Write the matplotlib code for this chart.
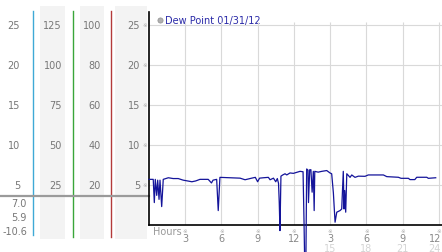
import matplotlib
matplotlib.use('Agg')
import matplotlib.pyplot as plt
from matplotlib.transforms import blended_transform_factory

# dew point trace, hours from midnight 01/31/12
hours = [0.0, 0.35, 0.44, 0.52, 0.64, 0.72, 0.83, 0.91, 1.05, 1.18, 1.6, 2.0, 2.42,
         2.83, 3.2, 3.55, 3.86, 4.22, 4.9, 5.17, 5.3, 5.6, 5.73, 5.87, 6.7, 7.54,
         7.95, 8.5, 8.8, 8.99, 9.15, 9.47, 9.88, 10.02, 10.3, 10.49, 10.62, 10.72,
         10.78, 10.84, 10.92, 11.07, 11.26, 11.4, 11.67, 11.95, 12.28, 12.5, 12.75,
         12.83, 12.95, 13.05, 13.16, 13.2, 13.3, 13.4, 13.5, 13.6, 13.67, 13.72,
         14.0, 14.3, 14.71, 14.98, 15.12, 15.26, 15.4, 15.54, 15.81, 15.95, 16.08,
         16.14, 16.2, 16.28, 16.37, 16.64, 16.78, 17.05, 17.33, 17.88, 18.15, 19.4,
         19.68, 20.64, 20.86, 21.47, 21.6, 22.0, 22.16, 22.99, 23.12, 23.73]
dew = [5.7, 5.7, 2.8, 5.7, 3.7, 5.6, 3.2, 5.6, 2.3, 5.7, 5.9, 5.8, 5.8,
       5.6, 5.5, 5.4, 5.5, 5.7, 5.7, 5.25, 5.6, 5.7, 1.8, 5.95, 5.9, 5.85,
       5.65, 5.85, 5.95, 5.4, 5.85, 5.9, 5.95, 5.65, 5.85, 5.4, 5.8, 5.2,
       2.8, -0.7, 6.1, 6.25, 6.4, 6.25, 6.5, 6.45, 6.6, 6.7, 6.65,
       0.4, -10.6, 7.0, 6.85, 2.8, 6.9, 6.9, 4.1, 6.7, 1.8, 6.7,
       6.6, 6.7, 6.8, 6.5, 6.4, 4.0, 0.35, 1.6, 1.8, 2.0, 6.7,
       2.0, 4.3, 1.6, 6.4, 5.95, 6.25, 5.95, 6.1, 6.08, 6.25, 6.25,
       6.04, 5.96, 5.83, 5.83, 5.67, 5.67, 5.96, 5.96, 5.83, 5.9]

grid_vals = [5, 10, 15, 20, 25]
scale_a = ['25', '50', '75', '100', '125']
scale_b = ['20', '40', '60', '80', '100']
tick_hours = [3, 6, 9, 12, 15, 18, 21, 24]
tick_row1 = ['3', '6', '9', '12', '3', '6', '9', '12']
tick_row2 = ['', '', '', '', '15', '18', '21', '24']
stats = ['7.0', '5.9', '-10.6']
legend_label = 'Dew Point 01/31/12'

W, H = 442, 253
fig = plt.figure(figsize=(W / 100, H / 100), dpi=100, facecolor='white')


def px(x):
    return x / W


def py(y):
    return 1 - y / H


# left side scale columns
bg = fig.add_axes([0, 0, 1, 1])
bg.set_xlim(0, W)
bg.set_ylim(H, 0)
bg.axis('off')
for x0, x1 in [(40, 65), (80, 104), (115, 147)]:
    bg.fill_between([x0, x1], 7, 240, color='#f3f3f3', lw=0)
bg.plot([33, 33], [12, 236], color='#3fa9d6', lw=1.0)
bg.plot([72.5, 72.5], [12, 238], color='#3aa63a', lw=1.0)
bg.plot([111, 111], [12, 238], color='#b33a3a', lw=1.0)
bg.plot([0, 149], [197, 197], color='#9a9a9a', lw=1.6)
for i, s in enumerate(stats):
    bg.text(27, 204 + i * 14, s, ha='right', va='center', fontsize=7, color='#777777')

ax = fig.add_axes([px(149), py(226), (W - 149) / W, (226 - 13) / H])
ax.set_xlim(0, 24.25)
ax.set_ylim(0, 26.6)
ax.set_facecolor('none')
ax.hlines(grid_vals, 0, 24.25, color='#d9d9d9', lw=0.8, zorder=0)
ax.vlines(tick_hours, 0, 25.3, color='#d9d9d9', lw=0.8, zorder=0)
for s in ['top', 'right']:
    ax.spines[s].set_visible(False)
ax.spines['left'].set_linewidth(1.2)
ax.spines['bottom'].set_linewidth(1.2)
ax.set_xticks([])
ax.set_yticks([])

ax.plot(hours, dew, color='#14149a', lw=0.9, clip_on=False, zorder=3)

# y scale labels placed through the data transform
ty = blended_transform_factory(fig.transFigure, ax.transData)
for v, a, b in zip(grid_vals, scale_a, scale_b):
    fig.text(px(20), v, str(v), transform=ty, ha='right', va='center', fontsize=7, color='#777777')
    fig.text(px(62), v, a, transform=ty, ha='right', va='center', fontsize=7, color='#777777')
    fig.text(px(101), v, b, transform=ty, ha='right', va='center', fontsize=7, color='#777777')
    fig.text(px(140), v, str(v), transform=ty, ha='right', va='center', fontsize=7, color='#777777')
    fig.text(px(145), v, '\u203b', transform=ty, ha='center', va='center', fontsize=4, color='#aaaaaa')

# x scale labels
tx = blended_transform_factory(ax.transData, fig.transFigure)
for h, r1, r2 in zip(tick_hours, tick_row1, tick_row2):
    fig.text(h, py(232), '\u203b', transform=tx, ha='center', va='center', fontsize=4, color='#aaaaaa')
    if h == tick_hours[-1]:
        # last label sits against the right edge
        fig.text(px(441), py(239), r1, ha='right', va='center', fontsize=7, color='#888888')
        fig.text(px(441), py(249), r2, ha='right', va='center', fontsize=7, color='#d4d4d4')
        continue
    fig.text(h, py(239), r1, transform=tx, ha='center', va='center', fontsize=7, color='#888888')
    if r2:
        fig.text(h, py(249), r2, transform=tx, ha='center', va='center', fontsize=7, color='#d4d4d4')
fig.text(px(153), py(232), 'Hours', ha='left', va='center', fontsize=7, color='#999999')

# legend
bg.scatter([160], [20.5], s=14, color='#b0b0b0', edgecolor='#909090', lw=0.5)
bg.text(165, 21, legend_label, ha='left', va='center', fontsize=7, color='#2a2aa8')

fig.savefig('out.png', dpi=100, facecolor='white')
